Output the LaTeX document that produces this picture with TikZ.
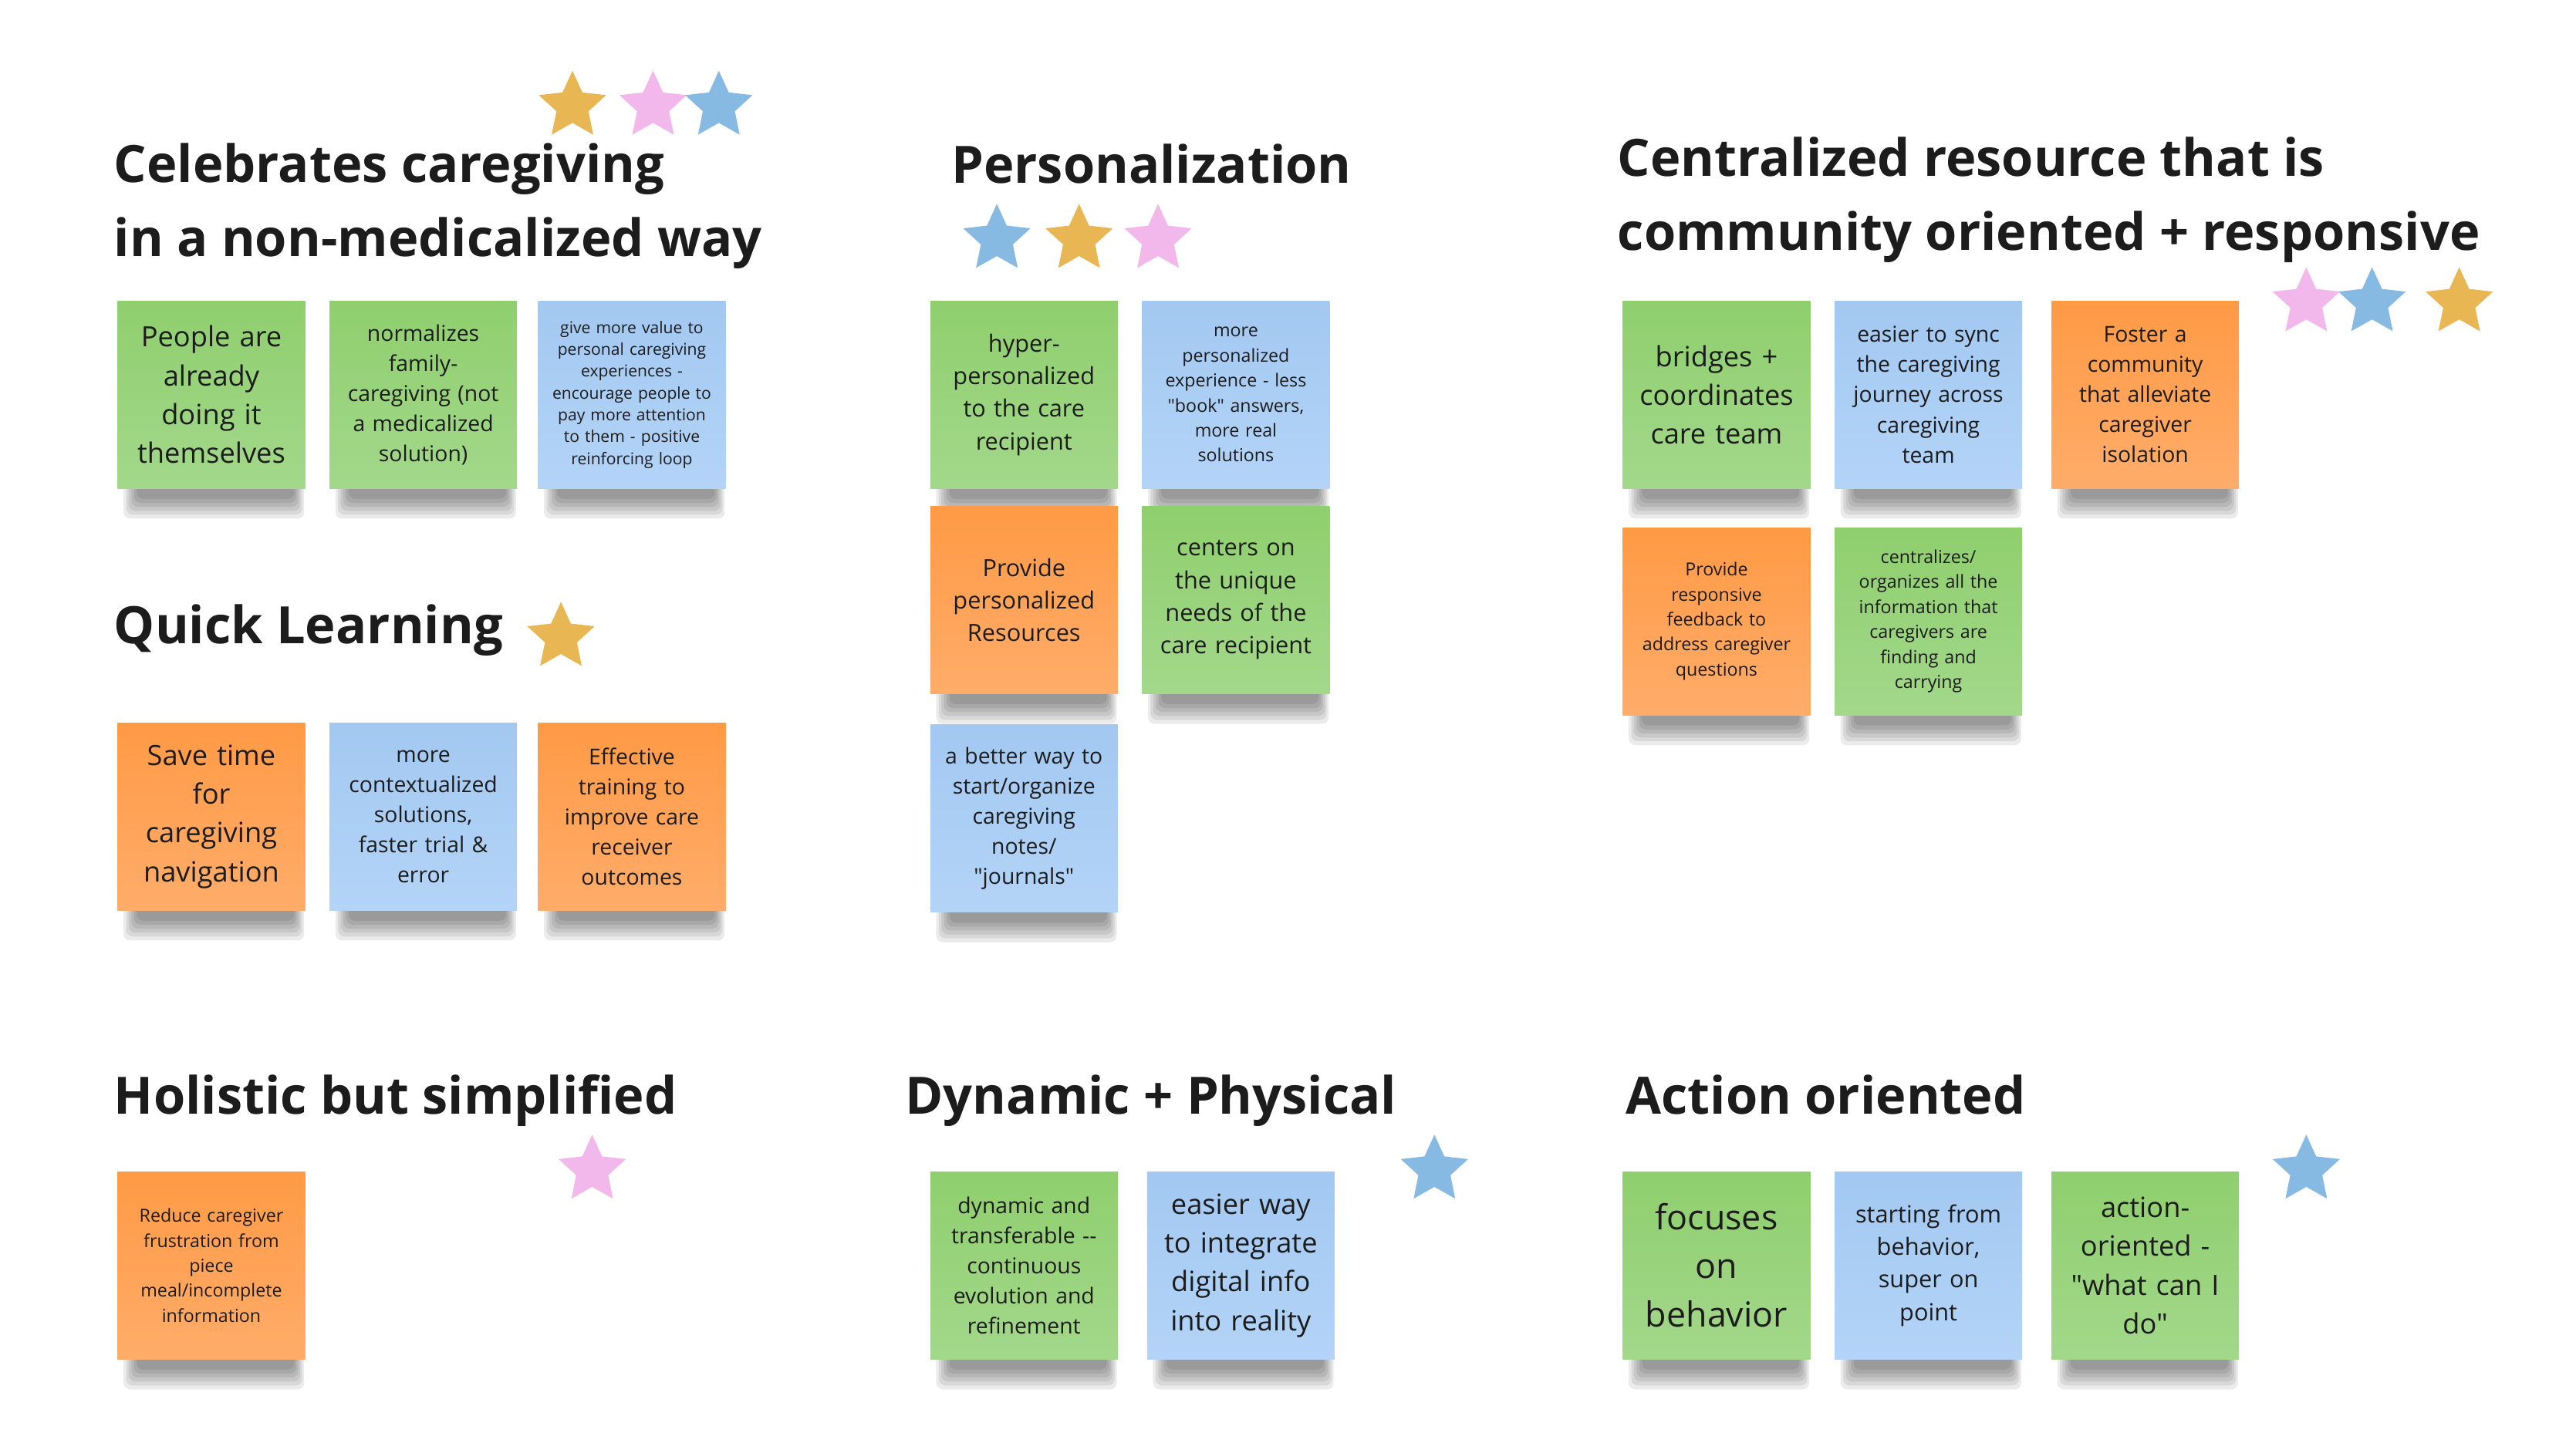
\documentclass[tikz,border=0pt]{standalone}
\usepackage{fontspec}
\setmainfont{Open Sans}[Ligatures=TeXOff]
\usetikzlibrary{positioning, shapes.geometric}

\definecolor{greenTop}{HTML}{8FCF6E}
\definecolor{greenBot}{HTML}{A3D88B}
\definecolor{blueTop}{HTML}{A3C8F1}
\definecolor{blueBot}{HTML}{B3D4F7}
\definecolor{orangeTop}{HTML}{FF9A45}
\definecolor{orangeBot}{HTML}{FFAC6A}
\definecolor{starGold}{HTML}{E9B654}
\definecolor{starPink}{HTML}{F3B8EB}
\definecolor{starBlue}{HTML}{86BAE3}
\definecolor{ink}{HTML}{1C1C1C}

\pgfdeclarelayer{shadow}
\pgfsetlayers{shadow,main}

\tikzset{
  note/.style={rectangle, minimum size=57pt, inner sep=0pt, text width=55pt, align=center, text=ink},
  gnote/.style={note, top color=greenTop, bottom color=greenBot},
  bnote/.style={note, top color=blueTop, bottom color=blueBot},
  onote/.style={note, top color=orangeTop, bottom color=orangeBot},
  hugetxt/.style={font=\fontsize{10.5}{14.75}\selectfont},
  bigtxt/.style={font=\fontsize{8.5}{11.8}\selectfont},
  midtxt/.style={font=\fontsize{7.2}{9.9}\selectfont},
  normtxt/.style={font=\fontsize{6.65}{9.15}\selectfont},
  smalltxt/.style={font=\fontsize{5.45}{7.6}\selectfont},
  tinytxt/.style={font=\fontsize{4.95}{6.65}\selectfont},
  title/.style={anchor=base west, inner sep=0pt, align=left, text=ink, font=\bfseries\fontsize{15.65}{22.5}\selectfont},
  award/.style={star, star points=5, star point ratio=2.1, minimum size=21.5pt, inner sep=0pt},
  shadowbar/.style={black, opacity=0.08, rounded corners=2pt}
}

\begin{document}
\begin{tikzpicture}[x=0.5pt, y=-0.5pt]
  \begin{pgfonlayer}{shadow}
    \fill[white] (0,0) rectangle (1566,877.5);
  \end{pgfonlayer}
  \useasboundingbox (0,0) rectangle (1566,877.5);

  % celebrates caregiving
  \node[title] (celT) at (69,156) {Celebrates caregiving\\in a non-medicalized way};
  \node[award, fill=starGold] (celS1) at (348,64.5) {};
  \node[award, fill=starPink] (celS2) at (397,64.5) {};
  \node[award, fill=starBlue] (celS3) at (437,64.5) {};
  \node[gnote, bigtxt] (cel1) at (128.5,240) {People are\\already\\doing it\\themselves};
  \node[gnote, normtxt, right=7pt of cel1] (cel2) {normalizes\\family-\\caregiving (not\\a medicalized\\solution)};
  \node[bnote, tinytxt, right=6pt of cel2] (cel3) {give more value to\\personal caregiving\\experiences -\\encourage people to\\pay more attention\\to them - positive\\reinforcing loop};

  % quick learning
  \node[title] (quiT) at (69,391.5) {Quick Learning};
  \node[award, fill=starGold] (quiS) at (341,387.5) {};
  \node[onote, bigtxt] (qui1) at (128.5,496.5) {Save time\\for\\caregiving\\navigation};
  \node[bnote, normtxt, right=7pt of qui1] (qui2) {more\\contextualized\\solutions,\\faster trial \&\\error};
  \node[onote, normtxt, right=6pt of qui2] (qui3) {Effective\\training to\\improve care\\receiver\\outcomes};

  % holistic
  \node[title] (holT) at (69,677.5) {Holistic but simplified};
  \node[award, fill=starPink] (holS) at (360,711.5) {};
  \node[onote, smalltxt] (hol1) at (128.5,769.5) {Reduce caregiver\\frustration from\\piece\\meal/incomplete\\information};

  % personalization
  \node[title] (perT) at (578,111.5) {Personalization};
  \node[award, fill=starBlue] (perS1) at (606,145.5) {};
  \node[award, fill=starGold] (perS2) at (656,145.5) {};
  \node[award, fill=starPink] (perS3) at (704,145.5) {};
  \node[gnote, midtxt] (per1) at (622.5,240) {hyper-\\personalized\\to the care\\recipient};
  \node[bnote, smalltxt, right=7pt of per1] (per2) {more\\personalized\\experience - less\\"book" answers,\\more real\\solutions};
  \node[onote, midtxt, below=5pt of per1] (per3) {Provide\\personalized\\Resources};
  \node[gnote, midtxt, right=7pt of per3] (per4) {centers on\\the unique\\needs of the\\care recipient};
  \node[bnote, normtxt, below=9pt of per3] (per5) {a better way to\\start/organize\\caregiving\\notes/\\"journals"};

  % centralized resource
  \node[title] (cenT) at (983,152) {Centralized resource that is\\community oriented + responsive};
  \node[award, fill=starPink] (cenS1) at (1402,184) {};
  \node[award, fill=starBlue] (cenS2) at (1442,184) {};
  \node[award, fill=starGold] (cenS3) at (1495,184) {};
  \node[gnote, bigtxt] (cen1) at (1043.5,240) {bridges +\\coordinates\\care team};
  \node[bnote, normtxt, right=7pt of cen1] (cen2) {easier to sync\\the caregiving\\journey across\\caregiving\\team};
  \node[onote, normtxt, right=8.5pt of cen2] (cen3) {Foster a\\community\\that alleviate\\caregiver\\isolation};
  \node[onote, smalltxt, below=11.5pt of cen1] (cen4) {Provide\\responsive\\feedback to\\address caregiver\\questions};
  \node[gnote, smalltxt, right=7pt of cen4] (cen5) {centralizes/\\organizes all the\\information that\\caregivers are\\finding and\\carrying};

  % dynamic + physical
  \node[title] (dynT) at (550,677.5) {Dynamic + Physical};
  \node[award, fill=starBlue] (dynS) at (872,711.5) {};
  \node[gnote, normtxt] (dyn1) at (622.5,769.5) {dynamic and\\transferable --\\continuous\\evolution and\\refinement};
  \node[bnote, bigtxt, right=8.5pt of dyn1] (dyn2) {easier way\\to integrate\\digital info\\into reality};

  % action oriented
  \node[title] (actT) at (988,677.5) {Action oriented};
  \node[award, fill=starBlue] (actS) at (1402,711.5) {};
  \node[gnote, hugetxt] (act1) at (1043.5,769.5) {focuses\\on\\behavior};
  \node[bnote, midtxt, right=7pt of act1] (act2) {starting from\\behavior,\\super on\\point};
  \node[gnote, bigtxt, right=8.5pt of act2] (act3) {action-\\oriented -\\"what can I\\do"};

  % soft shadows under the notes
  \begin{pgfonlayer}{shadow}
    \foreach \n in {cel1,cel2,cel3,qui1,qui2,qui3,hol1,per1,per2,per3,per4,per5,
                    cen1,cen2,cen3,cen4,cen5,dyn1,dyn2,act1,act2,act3}
      \foreach \k in {0,...,5}
        \fill[shadowbar] ([xshift={(2+0.8*\k)*1pt},yshift=2pt]\n.south west)
          rectangle ([xshift={-(0.5+0.6*\k)*1pt},yshift={-(9-1.2*\k)*1pt}]\n.south east);
  \end{pgfonlayer}
\end{tikzpicture}
\end{document}
